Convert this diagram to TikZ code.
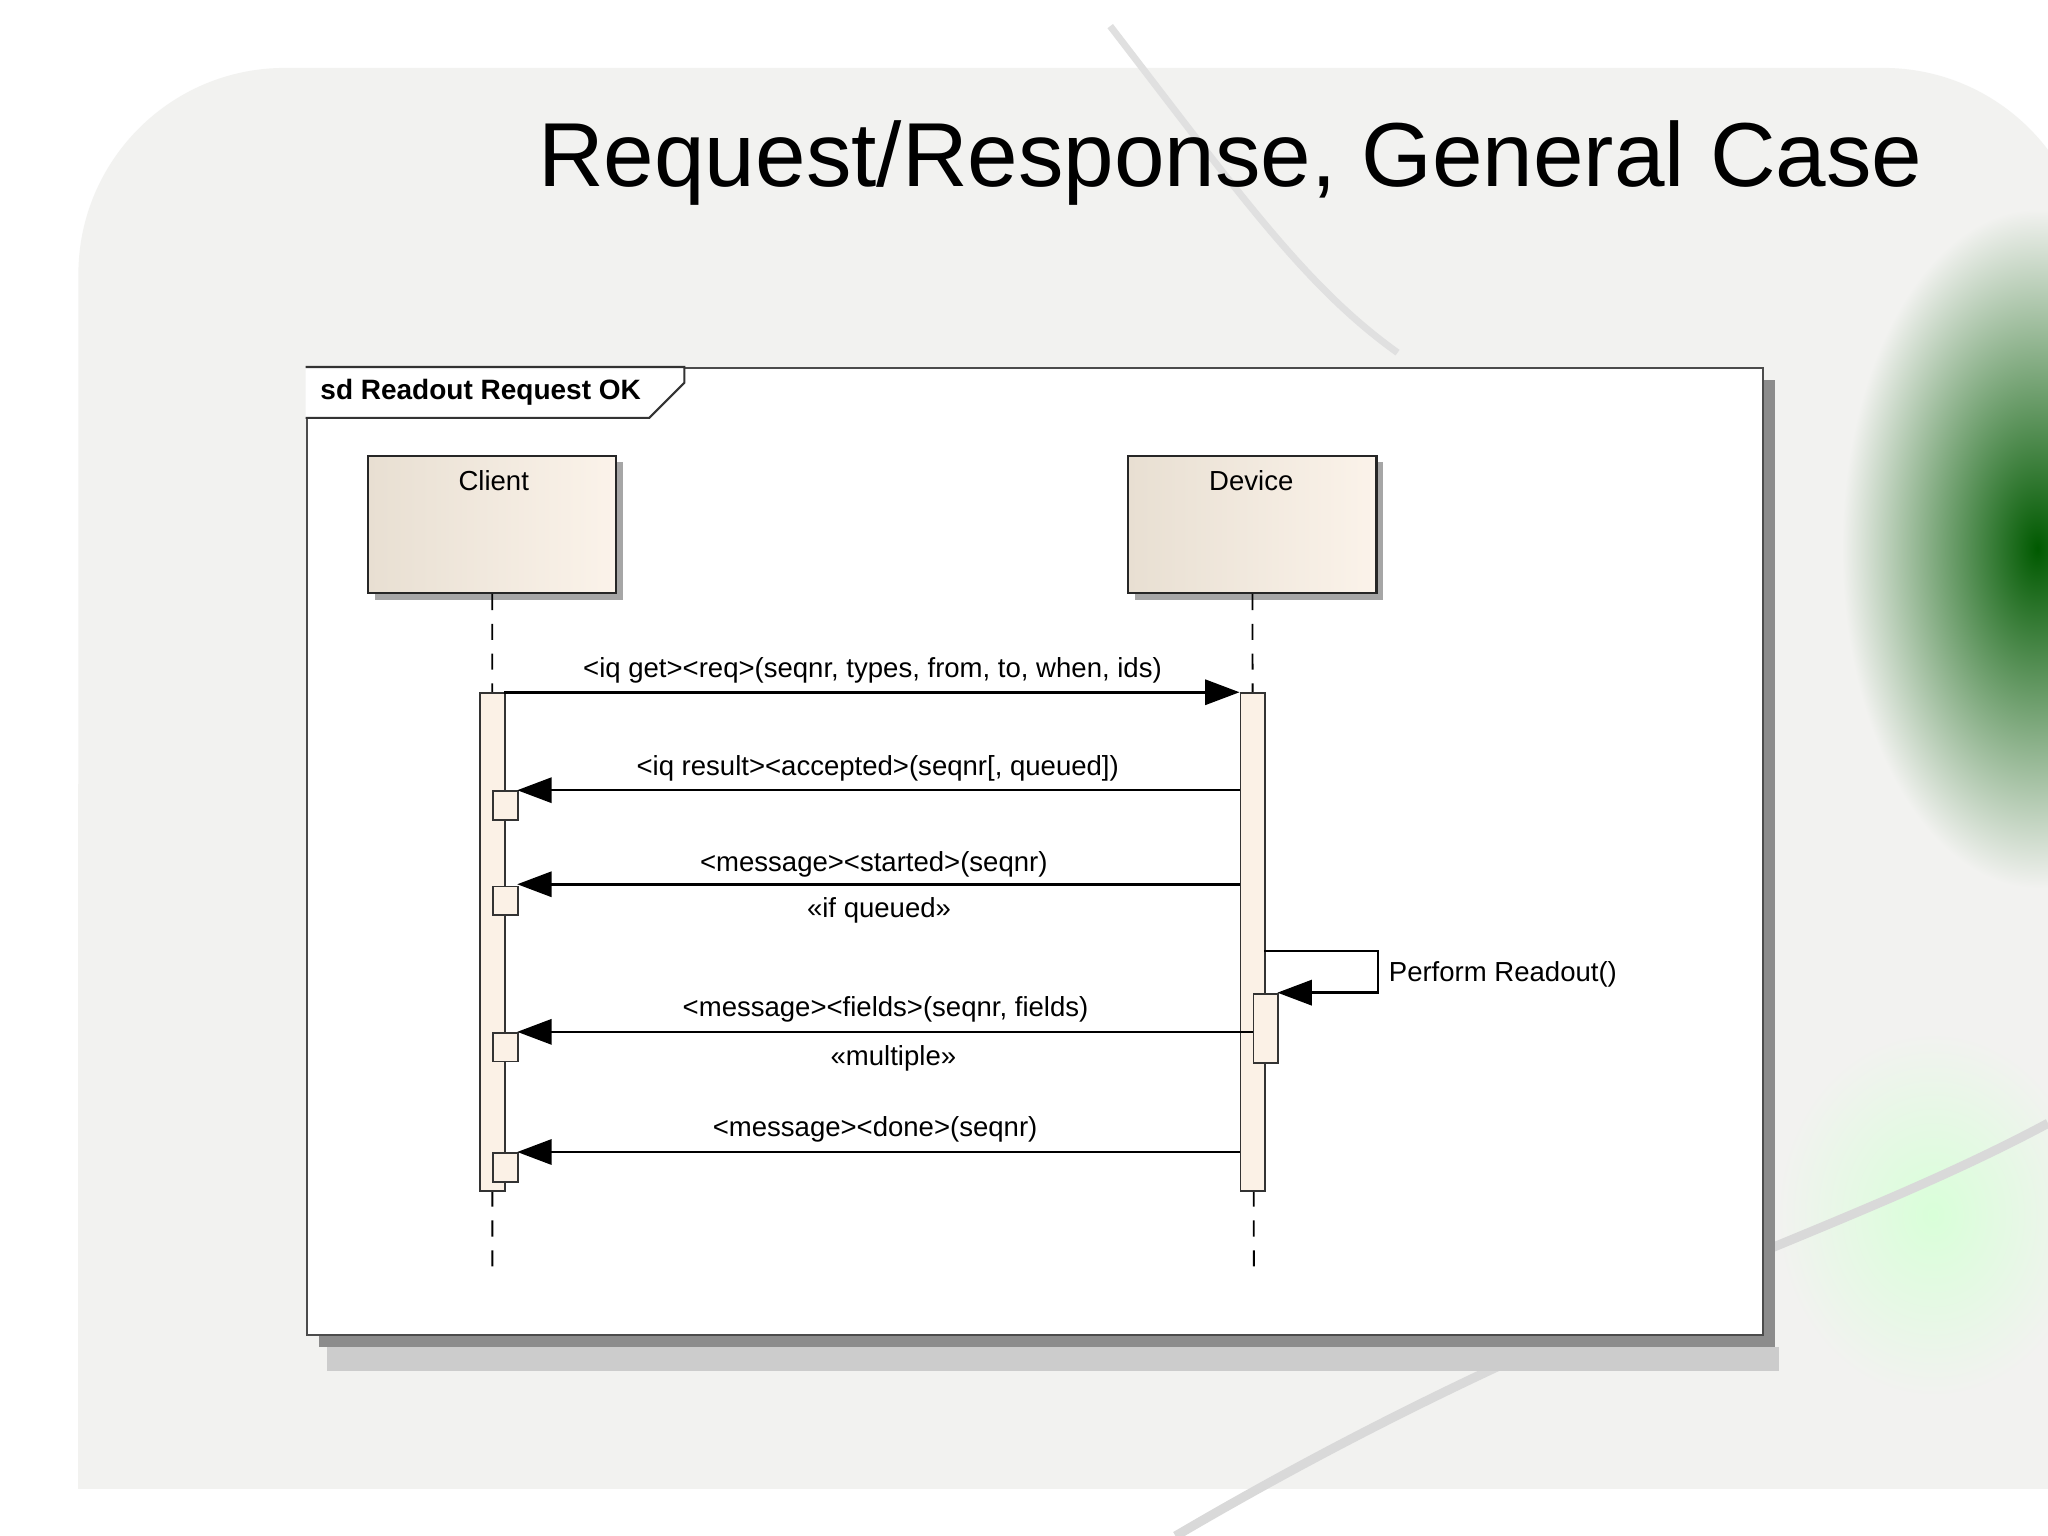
\documentclass[tikz,border=0pt]{standalone}
\usepackage{fontspec}
\setmainfont{Liberation Sans}
\usetikzlibrary{arrows.meta}
\definecolor{beigeA}{HTML}{E8DFD2}
\definecolor{beigeB}{HTML}{FBF3EA}
\definecolor{actfill}{HTML}{FBF1E6}
\definecolor{bgpanel}{HTML}{F2F2F0}
\tikzset{
  lbl/.style={font=\fontsize{12}{13}\selectfont, inner sep=0pt},
  msg/.style={draw=black, line width=1.1pt, -{Triangle[length=15pt,width=11pt]}},
  act/.style={draw=black!80, fill=actfill, line width=0.8pt},
  life/.style={draw=black, line width=0.8pt, dash pattern=on 7pt off 6pt},
  partbox/.style={draw=black!85, line width=1pt, left color=beigeA, right color=beigeB},
}
\begin{document}
\begin{tikzpicture}[x=0.02cm,y=-0.02cm]
\useasboundingbox (0,0) rectangle (1568,1176);
\fill[white] (0,0) rectangle (1568,1176);
% background panel
\fill[bgpanel, rounded corners=90] (60,52) rectangle (1600,1140);
\fill[bgpanel] (60,600) rectangle (1600,1140);
% green decoration
\begin{scope}
\clip (0,0) rectangle (1568,1176);
\shade[inner color=green!35!black, outer color=bgpanel] (1560,420) ellipse (150 and 260);
\shade[inner color=green!15!white, outer color=bgpanel] (1480,930) ellipse (120 and 140);
\draw[black!15, line width=4pt] (900,1176) .. controls (1200,1000) and (1400,950) .. (1568,860);
\draw[black!12, line width=3pt] (850,20) .. controls (950,150) and (1000,220) .. (1070,270);
\end{scope}
% title
\node[font=\fontsize{39.6}{46}\selectfont, anchor=base] (title) at (942,143) {Request/Response, General Case};
% frame
\fill[black!45] (244,291) rectangle (1359,1031);
\fill[black!20] (250,1031) rectangle (1362,1050);
\node[draw=black!70, fill=white, line width=1pt, minimum width=1115*0.02cm, minimum height=740*0.02cm, inner sep=0pt, anchor=north west] (frame) at (234,281) {};
\draw[black!80, line width=0.9pt, fill=white] (234,281) -- (524,281) -- (524,293) -- (497,320) -- (234,320);
\node[lbl, anchor=west, font=\fontsize{12.2}{13}\selectfont\bfseries] (sd) at (245,300) {sd Readout Request OK};
% participants
\fill[black!35] (287,354) rectangle (477,459);
\fill[black!35] (869,354) rectangle (1059,459);
\node[partbox, minimum width=190*0.02cm, minimum height=105*0.02cm, anchor=north west] (client) at (281,348) {};
\node[partbox, minimum width=190*0.02cm, minimum height=105*0.02cm, anchor=north west] (device) at (863,348) {};
\node[lbl] (clientlbl) at (378,368) {Client};
\node[lbl] (devicelbl) at (958,368) {Device};
% lifelines
\coordinate (cend) at (377,972);
\coordinate (dend) at (960,972);
\draw[life] (client.south) -- (cend);
\draw[life] (device.south) -- (dend);
% activations
\node[act, minimum width=19*0.02cm, minimum height=381*0.02cm, inner sep=0pt, anchor=north west] (cact) at (367,530) {};
\node[act, minimum width=19*0.02cm, minimum height=381*0.02cm, inner sep=0pt, anchor=north west] (dact) at (949,530) {};
\foreach \y/\n in {605/c1,678/c2,790/c3,882/c4}{
  \node[act, minimum width=19*0.02cm, minimum height=22*0.02cm, inner sep=0pt, anchor=north west] (\n) at (377,\y) {};
}
\node[act, minimum width=19*0.02cm, minimum height=53*0.02cm, inner sep=0pt, anchor=north west] (dsub) at (959,760) {};
% messages
\coordinate (m1s) at (386,530); \coordinate (m1e) at (949,530);
\draw[msg] (m1s) -- (m1e);
\node[lbl] (m1l) at (668,513) {<iq get><req>(seqnr, types, from, to, when, ids)};
\coordinate (m2s) at (949,605); \coordinate (m2e) at (396,605);
\draw[msg] (m2s) -- (m2e);
\node[lbl] (m2l) at (672,588) {<iq result><accepted>(seqnr[, queued])};
\coordinate (m3s) at (949,677); \coordinate (m3e) at (396,677);
\draw[msg] (m3s) -- (m3e);
\node[lbl] (m3l) at (669,662) {<message><started>(seqnr)};
\node[lbl] (m3s2) at (673,697) {«if queued»};
\coordinate (m4a) at (968,728); \coordinate (m4b) at (1055,728); \coordinate (m4c) at (1055,760); \coordinate (m4e) at (978,760);
\draw[msg] (m4a) -- (m4b) -- (m4c) -- (m4e);
\node[lbl, anchor=west] (m4l) at (1063,746) {Perform Readout()};
\coordinate (m5s) at (959,790); \coordinate (m5e) at (396,790);
\draw[msg] (m5s) -- (m5e);
\node[lbl] (m5l) at (678,773) {<message><fields>(seqnr, fields)};
\node[lbl] (m5s2) at (684,810) {«multiple»};
\coordinate (m6s) at (949,882); \coordinate (m6e) at (396,882);
\draw[msg] (m6s) -- (m6e);
\node[lbl] (m6l) at (670,865) {<message><done>(seqnr)};
\end{tikzpicture}
\end{document}
